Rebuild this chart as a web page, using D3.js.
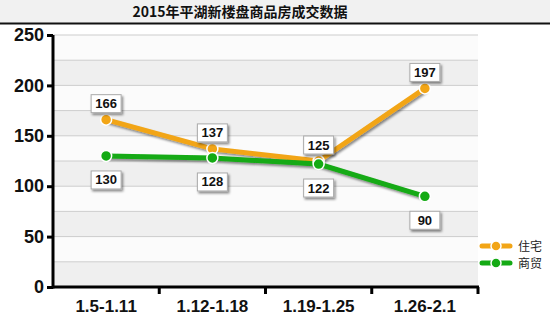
<!DOCTYPE html>
<html>
<head>
<meta charset="utf-8">
<script src="https://cdn.jsdelivr.net/npm/d3@7"></script>
<style>
  body { margin: 0; background: #fff; }
  text { font-family: "Liberation Sans", Arial, sans-serif; }
  .cjk { font-family: "Noto Sans CJK SC", sans-serif; }
</style>
</head>
<body>
<div id="chart"></div>
<script>
const categories = ["1.5-1.11", "1.12-1.18", "1.19-1.25", "1.26-2.1"];
const zhuzhai = [166, 137, 125, 197];
const shangmao = [130, 128, 122, 90];
const yTicks = [0, 50, 100, 150, 200, 250];
const seriesNames = ["住宅", "商贸"];
const seriesColors = ["#f2a516", "#14aa14"];

const width = 550, height = 318;
const margin = { left: 53, right: 72, top: 35, bottom: 31 };

const svg = d3.select("#chart").append("svg")
  .attr("width", width).attr("height", height);

// shadow filter for lines and boxes
const defs = svg.append("defs");
const f = defs.append("filter").attr("id", "shadow")
  .attr("x", "-20%").attr("y", "-20%").attr("width", "150%").attr("height", "160%");
f.append("feDropShadow").attr("dx", 1.5).attr("dy", 2).attr("stdDeviation", 1)
  .attr("flood-color", "#000").attr("flood-opacity", 0.45);

// title band
svg.append("rect").attr("x", 0).attr("y", 0).attr("width", width).attr("height", 23)
  .attr("fill", "#f1f1f1");
svg.append("line").attr("x1", 0).attr("x2", width).attr("y1", 23.5).attr("y2", 23.5)
  .attr("stroke", "#111").attr("stroke-width", 2);
svg.append("text").attr("class", "cjk")
  .attr("x", 240).attr("y", 17).attr("text-anchor", "middle")
  .attr("font-size", 14).attr("font-weight", "bold").attr("fill", "#111")
  .text("2015年平湖新楼盘商品房成交数据");

const x = d3.scaleBand().domain(categories)
  .range([margin.left, width - margin.right]);
const y = d3.scaleLinear().domain([0, 250])
  .range([height - margin.bottom, margin.top]);

// alternating bands every 25
const bandVals = d3.range(0, 250, 25);
svg.append("g").selectAll("rect").data(bandVals).enter().append("rect")
  .attr("x", margin.left).attr("width", width - margin.right - margin.left)
  .attr("y", d => y(d + 25)).attr("height", d => y(d) - y(d + 25))
  .attr("fill", (d, i) => i % 2 === 0 ? "#efefef" : "#fbfbfb");

svg.append("g").selectAll("line").data(d3.range(25, 275, 25)).enter().append("line")
  .attr("x1", margin.left).attr("x2", width - margin.right)
  .attr("y1", d => y(d)).attr("y2", d => y(d))
  .attr("stroke", "#cdcdcd").attr("stroke-width", 1);

// axes
const yAxis = svg.append("g").attr("transform", `translate(${margin.left},0)`)
  .call(d3.axisLeft(y).tickValues(yTicks).tickSize(6).tickPadding(3));
yAxis.select(".domain").attr("stroke", "#000").attr("stroke-width", 3)
  .attr("d", `M0,${y(0) + 1.5}V${y(250)}`);
yAxis.selectAll(".tick line").attr("stroke", "#000").attr("stroke-width", 3);
yAxis.selectAll(".tick text").attr("font-size", 18).attr("font-weight", "bold")
  .attr("fill", "#111").attr("font-family", "Liberation Sans, Arial, sans-serif");

const xAxis = svg.append("g").attr("transform", `translate(0,${y(0)})`);
xAxis.append("line").attr("x1", margin.left).attr("x2", width - margin.right + 1)
  .attr("stroke", "#000").attr("stroke-width", 3);
const bounds = categories.map(c => x(c)).concat([x.range()[1]]).slice(1);
xAxis.selectAll("line.tk").data(bounds).enter().append("line").attr("class", "tk")
  .attr("x1", d => d).attr("x2", d => d).attr("y1", 0).attr("y2", 7)
  .attr("stroke", "#000").attr("stroke-width", 3);
xAxis.selectAll("text").data(categories).enter().append("text")
  .attr("x", d => x(d) + x.bandwidth() / 2).attr("y", 25)
  .attr("text-anchor", "middle").attr("font-size", 17).attr("font-weight", "bold")
  .attr("fill", "#111").text(d => d);

// lines
const series = [zhuzhai, shangmao];
const line = d3.line()
  .x((d, i) => x(categories[i]) + x.bandwidth() / 2)
  .y(d => y(d));

series.forEach((vals, si) => {
  svg.append("path").datum(vals).attr("d", line)
    .attr("fill", "none").attr("stroke", seriesColors[si]).attr("stroke-width", 5)
    .attr("filter", "url(#shadow)");
});
series.forEach((vals, si) => {
  svg.append("g").selectAll("circle").data(vals).enter().append("circle")
    .attr("cx", (d, i) => x(categories[i]) + x.bandwidth() / 2)
    .attr("cy", d => y(d)).attr("r", 5.5)
    .attr("fill", seriesColors[si]).attr("stroke", "#fff").attr("stroke-width", 1.5);
});

// value labels
series.forEach((vals, si) => {
  const g = svg.append("g").selectAll("g").data(vals).enter().append("g")
    .attr("transform", (d, i) => {
      const cx = x(categories[i]) + x.bandwidth() / 2;
      const cy = si === 0 ? y(d) - 25 : y(d) + 15;
      return `translate(${cx},${cy})`;
    });
  g.append("rect").attr("x", -15).attr("y", 0).attr("width", 30).attr("height", 18)
    .attr("fill", "#fff").attr("stroke", "#aaa").attr("stroke-width", 1)
    .attr("filter", "url(#shadow)");
  g.append("text").attr("x", 0).attr("y", 13.5).attr("text-anchor", "middle")
    .attr("font-size", 13).attr("font-weight", "bold").attr("fill", "#111")
    .text(d => d);
});

// legend
const legend = svg.append("g").selectAll("g").data(seriesNames).enter().append("g")
  .attr("transform", (d, i) => `translate(482,${246 + i * 17})`);
legend.append("line").attr("x1", 0).attr("x2", 28)
  .attr("stroke", (d, i) => seriesColors[i]).attr("stroke-width", 5)
  .attr("stroke-linecap", "round");
legend.append("circle").attr("cx", 14).attr("r", 5)
  .attr("fill", (d, i) => seriesColors[i]).attr("stroke", "#fff").attr("stroke-width", 1.5);
legend.append("text").attr("class", "cjk").attr("x", 36).attr("y", 4.5)
  .attr("font-size", 12).attr("fill", "#222").text(d => d);
</script>
</body>
</html>
